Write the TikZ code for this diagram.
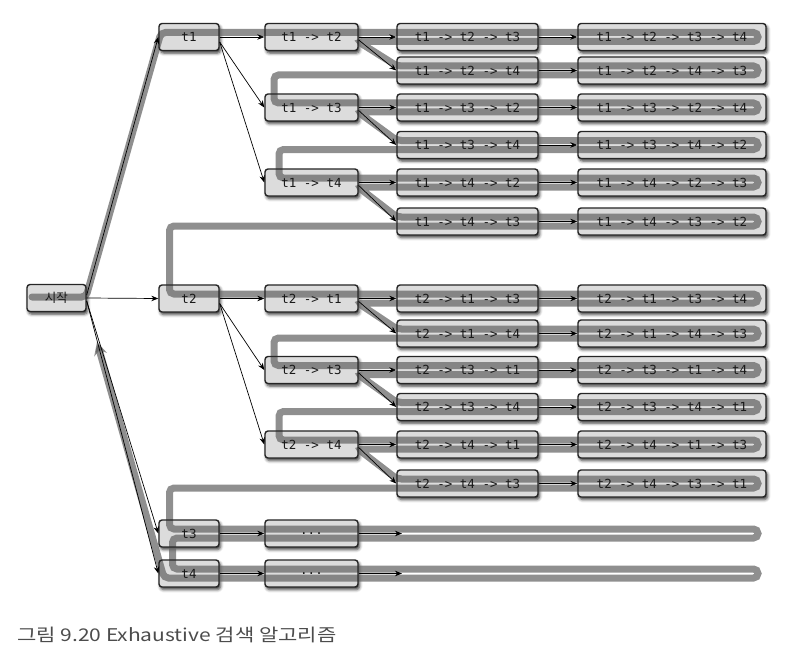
\documentclass[tikz,border=0pt]{standalone}
\usepackage{fontspec}
\setmonofont{DejaVu Sans Mono}
\newfontfamily\krfont{Noto Sans CJK KR}
\usetikzlibrary{arrows.meta,shadows.blur}
\definecolor{boxfill}{HTML}{DCDCDC}
\definecolor{boxline}{HTML}{262626}
\definecolor{bandcol}{HTML}{646464}
\tikzset{
  boxbg/.style={rectangle, rounded corners=3pt, fill=boxfill, minimum height=27pt, inner sep=0pt,
    blur shadow={shadow xshift=1.5pt, shadow yshift=-2.5pt, shadow blur radius=3pt, shadow opacity=80}},
  boxfg/.style={rectangle, rounded corners=3pt, draw=boxline, line width=1.4pt, minimum height=27pt,
    inner sep=0pt, font=\ttfamily\fontsize{12.5}{14}\selectfont, text=black!90},
  wzero/.style={minimum width=59pt},
  wone/.style={minimum width=60pt},
  wtwo/.style={minimum width=93pt},
  wthree/.style={minimum width=141pt},
  wfour/.style={minimum width=188pt},
  band/.style={draw=bandcol, line width=7pt, opacity=0.72, rounded corners=4.5pt, line cap=round},
  edge/.style={draw=black, line width=0.7pt, -{Stealth[length=7pt,width=5.5pt]}},
}
\begin{document}
\begin{tikzpicture}[x=1pt,y=-1pt]
\useasboundingbox (0,0) rectangle (788,661);
\def\allboxes{%
  \B{wzero}{s}{(56.5,298)}{{\krfont 시작}}%
  \B{wone}{ta}{(189,37)}{t1}%
  \B{wone}{tb}{(189,298.5)}{t2}%
  \B{wone}{tc}{(189,533.5)}{t3}%
  \B{wone}{td}{(189,573.5)}{t4}%
  \B{wtwo}{aa}{(311.5,37)}{t1 -> t2}%
  \B{wtwo}{ab}{(311.5,107.5)}{t1 -> t3}%
  \B{wtwo}{ac}{(311.5,182.5)}{t1 -> t4}%
  \B{wtwo}{ba}{(311.5,298.5)}{t2 -> t1}%
  \B{wtwo}{bb}{(311.5,370)}{t2 -> t3}%
  \B{wtwo}{bc}{(311.5,444.5)}{t2 -> t4}%
  \B{wtwo}{cd}{(311.5,533.5)}{...}%
  \B{wtwo}{dd}{(311.5,573.5)}{...}%
  \B{wthree}{aaa}{(467.5,37)}{t1 -> t2 -> t3}%
  \B{wthree}{aab}{(467.5,70.5)}{t1 -> t2 -> t4}%
  \B{wthree}{aba}{(467.5,107.5)}{t1 -> t3 -> t2}%
  \B{wthree}{abb}{(467.5,145)}{t1 -> t3 -> t4}%
  \B{wthree}{aca}{(467.5,182.5)}{t1 -> t4 -> t2}%
  \B{wthree}{acb}{(467.5,221.5)}{t1 -> t4 -> t3}%
  \B{wthree}{baa}{(467.5,298.5)}{t2 -> t1 -> t3}%
  \B{wthree}{bab}{(467.5,333.5)}{t2 -> t1 -> t4}%
  \B{wthree}{bba}{(467.5,370)}{t2 -> t3 -> t1}%
  \B{wthree}{bbb}{(467.5,407)}{t2 -> t3 -> t4}%
  \B{wthree}{bca}{(467.5,444.5)}{t2 -> t4 -> t1}%
  \B{wthree}{bcb}{(467.5,483.5)}{t2 -> t4 -> t3}%
  \B{wfour}{aaax}{(672,37)}{t1 -> t2 -> t3 -> t4}%
  \B{wfour}{aabx}{(672,70.5)}{t1 -> t2 -> t4 -> t3}%
  \B{wfour}{abax}{(672,107.5)}{t1 -> t3 -> t2 -> t4}%
  \B{wfour}{abbx}{(672,145)}{t1 -> t3 -> t4 -> t2}%
  \B{wfour}{acax}{(672,182.5)}{t1 -> t4 -> t2 -> t3}%
  \B{wfour}{acbx}{(672,221.5)}{t1 -> t4 -> t3 -> t2}%
  \B{wfour}{baax}{(672,298.5)}{t2 -> t1 -> t3 -> t4}%
  \B{wfour}{babx}{(672,333.5)}{t2 -> t1 -> t4 -> t3}%
  \B{wfour}{bbax}{(672,370)}{t2 -> t3 -> t1 -> t4}%
  \B{wfour}{bbbx}{(672,407)}{t2 -> t3 -> t4 -> t1}%
  \B{wfour}{bcax}{(672,444.5)}{t2 -> t4 -> t1 -> t3}%
  \B{wfour}{bcbx}{(672,483.5)}{t2 -> t4 -> t3 -> t1}%
}
% phase 1: filled boxes with shadows
\def\B#1#2#3#4{\node[boxbg,#1] (#2bg) at #3 {};}
\allboxes
% search trajectory band
\draw[band, -{Stealth[length=13pt,width=13pt]}]
  (32,297) -- (86,297) -- (161,32.5) -- (758,32.5) -- (758,41.5) -- (358,41.5) -- (397,66)
  -- (758,66) -- (758,75) -- (274,75) -- (274,103) -- (758,103) -- (758,112) -- (358,112)
  -- (397,140.5) -- (758,140.5) -- (758,149.5) -- (279,149.5) -- (279,178) -- (758,178)
  -- (758,187) -- (358,187) -- (397,217) -- (758,217) -- (758,226) -- (169.5,226)
  -- (169.5,294) -- (758,294) -- (758,303) -- (358,303) -- (397,329) -- (758,329)
  -- (758,338) -- (274,338) -- (274,365.5) -- (758,365.5) -- (758,374.5) -- (358,374.5)
  -- (397,402.5) -- (758,402.5) -- (758,411.5) -- (279,411.5) -- (279,440) -- (758,440)
  -- (758,449) -- (358,449) -- (397,479) -- (758,479) -- (758,488) -- (169.5,488)
  -- (169.5,529) -- (758,529) -- (758,538) -- (172.5,538) -- (172.5,569) -- (758,569)
  -- (758,578) -- (164,578) -- (97,342);
% phase 2: borders and texts
\def\B#1#2#3#4{\node[boxfg,#1] (#2) at #3 {#4};}
\allboxes
\coordinate (ce) at (402,533.5);
\coordinate (de) at (402,573.5);
% tree edges
\draw[edge] ([yshift=3pt]s.east) -- (ta.west);
\draw[edge] (s.east) -- (tb.west);
\draw[edge] ([yshift=-3pt]s.east) -- (tc.west);
\draw[edge] ([yshift=-3pt]s.east) -- (td.west);
\foreach \p/\c in {ta/a, tb/b} {
  \draw[edge] (\p.east) -- (\c a.west);
  \draw[edge] ([yshift=-5pt]\p.east) -- (\c b.west);
  \draw[edge] ([yshift=-5pt]\p.east) -- (\c c.west);
}
\foreach \p in {aa,ab,ac,ba,bb,bc} {
  \draw[edge] (\p.east) -- (\p a.west);
  \draw[edge] ([yshift=-3pt]\p.east) -- (\p b.west);
}
\foreach \p in {aaa,aab,aba,abb,aca,acb,baa,bab,bba,bbb,bca,bcb} {
  \draw[edge] (\p.east) -- (\p x.west);
}
\draw[edge] (tc.east) -- (cd.west);
\draw[edge] (cd.east) -- (ce);
\draw[edge] (td.east) -- (dd.west);
\draw[edge] (dd.east) -- (de);
% caption
\node[anchor=west, inner sep=0pt, font=\krfont\fontsize{17.5}{20}\selectfont, text=black!70] (cap) at (17,635) {\scalebox{1.2}[1]{그림 9.20 Exhaustive 검색 알고리즘}};
\end{tikzpicture}
\end{document}
